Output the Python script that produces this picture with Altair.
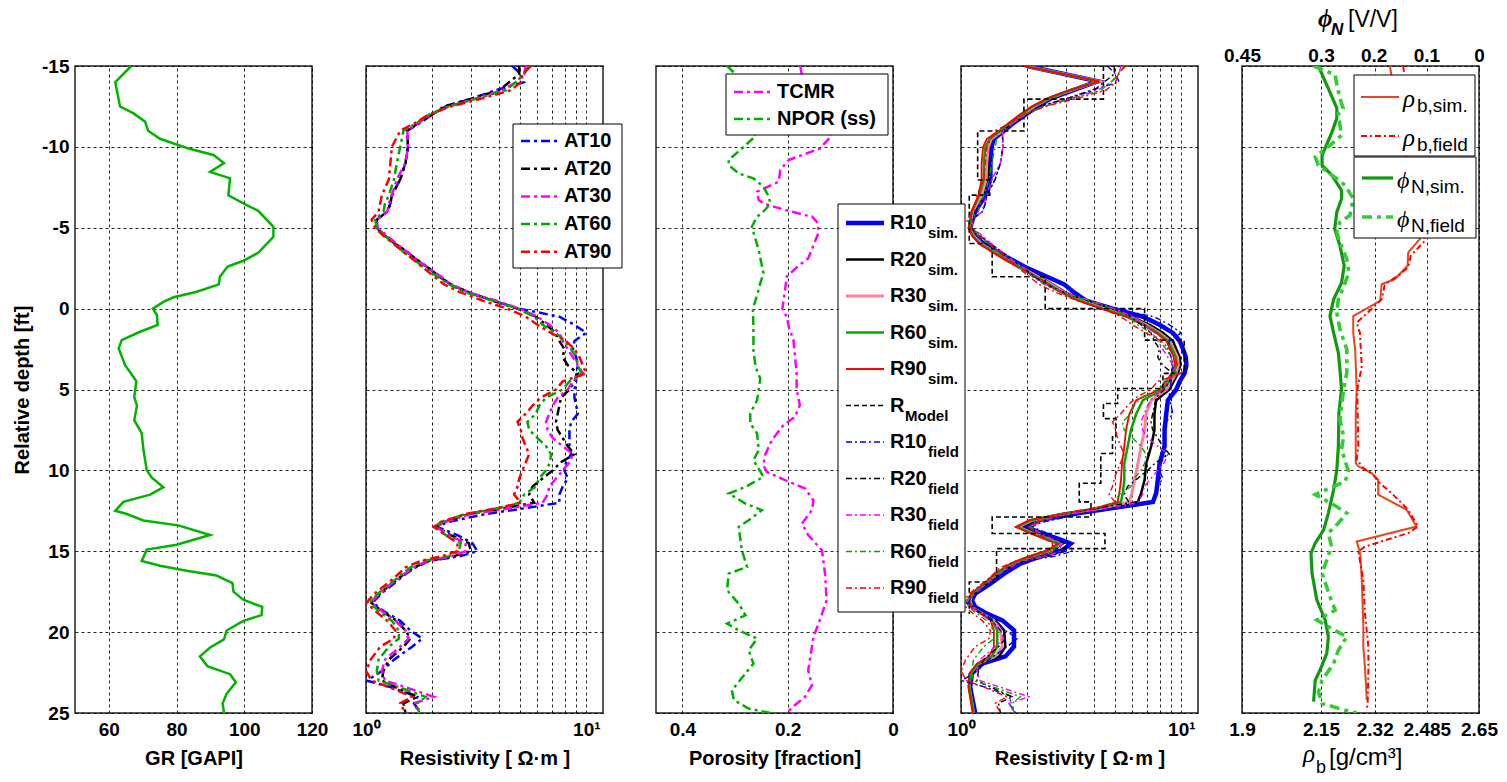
import altair as alt
import pandas as pd

FONT = "Liberation Sans"
SERIF = "Liberation Serif"
W = 237
H = 647
Y_TICKS = [-15, -10, -5, 0, 5, 10, 15, 20, 25]

# ---------------- Panel 1: gamma ray ----------------
gr_depth = [-15, -14.0, -12.5, -12.07, -11.56, -11.0, -10.5, -10.15, -9.9, -9.5, -9.0, -8.45, -8.05,
            -7.0, -6.4, -6.05, -5.06, -4.44, -3.45, -2.96, -2.6, -1.97, -1.5, -1.04, -0.7, -0.42, 0.0,
            0.4, 1.0, 1.43, 1.95, 2.46, 3.5, 4.48, 5.0, 5.45, 6.0, 6.9, 7.7, 8.7, 10.0, 10.45, 11.04,
            11.5, 11.95, 12.5, 12.7, 13.1, 13.4, 14.0, 14.6, 14.9, 15.6, 15.9, 16.2, 16.5, 16.97, 17.5,
            18.0, 18.44, 18.95, 19.3, 19.9, 20.45, 20.95, 21.5, 22.1, 22.6, 23.1, 23.8, 24.4, 25.0]
gr_value = [66.6, 61.9, 63.3, 67.3, 70.7, 71.6, 75.1, 80.0, 83.5, 90.9, 94.0, 89.9, 95.8,
            95.3, 100.7, 104.1, 108.6, 108.6, 104.1, 99.7, 95.1, 92.8, 92.5, 86.0, 79.1, 76.1, 73.0,
            74.2, 74.4, 69.2, 63.8, 62.9, 64.8, 68.1, 67.8, 67.5, 68.3, 67.5, 69.7, 70.2, 71.2, 72.7, 76.1,
            72.2, 64.3, 61.9, 65.3, 70.2, 80.5, 89.9, 80.0, 71.2, 69.7, 75.1, 83.0, 91.8, 96.5, 96.8,
            99.7, 105.3, 105.1, 99.7, 94.8, 94.0, 89.9, 86.9, 89.1, 95.8, 97.5, 94.8, 93.6, 94.0]

# ---------------- Panel 2 / field resistivity logs ----------------
res_depth = [-15, -14.5, -14, -13.5, -13, -12.5, -12, -11.5, -11,
             -10, -9, -8, -7, -6.5, -6, -5.5, -5, -4.5, -4,
             -3.5, -3, -2.5, -2, -1.5, -1, -0.5, 0, 0.5, 1,
             1.5, 2, 2.5, 3, 3.5, 4, 4.5, 5, 5.5, 6,
             6.5, 7, 7.5, 8, 8.5, 9, 9.5, 10, 10.5, 11,
             11.5, 12, 12.3, 12.7, 13.2, 13.5, 14, 14.5, 15, 15.3,
             15.6, 16, 16.5, 17, 17.5, 18, 18.2, 18.7, 19.3, 19.9,
             20.4, 20.9, 21.7, 22.4, 23, 23.4, 24, 24.4, 25]
at10 = [4.62, 5.04, 5.22, 3.88, 3.04, 2.30, 2.00, 1.77, 1.54,
        1.55, 1.51, 1.43, 1.31, 1.29, 1.25, 1.12, 1.12, 1.22, 1.36,
        1.54, 1.71, 1.93, 2.14, 2.42, 2.93, 3.75, 4.96, 7.54, 8.83,
        9.98, 8.83, 8.68, 8.99, 9.15, 8.99, 8.99, 8.83, 8.83, 8.99,
        9.15, 8.53, 8.38, 8.38, 8.38, 8.53, 8.09, 7.95, 8.23, 7.81,
        7.54, 7.54, 5.50, 3.49, 2.34, 2.10, 2.60, 3.04, 3.20, 2.69,
        1.93, 1.68, 1.48, 1.34, 1.20, 1.10, 1.08, 1.20, 1.43, 1.59,
        1.80, 1.62, 1.34, 1.18, 1.01, 1.29, 1.71, 1.65, 1.77]
at20 = [4.96, 4.96, 4.46, 4.02, 3.04, 2.26, 2.00, 1.74, 1.54,
        1.55, 1.51, 1.43, 1.31, 1.29, 1.25, 1.12, 1.12, 1.22, 1.36,
        1.54, 1.71, 1.93, 2.14, 2.42, 2.93, 3.75, 4.87, 5.90, 6.56,
        7.28, 7.54, 7.95, 7.81, 8.23, 9.15, 8.83, 8.38, 7.67, 7.54,
        7.41, 7.28, 7.41, 7.81, 8.23, 8.83, 7.67, 7.03, 6.33, 5.70,
        5.50, 5.80, 4.38, 2.93, 2.26, 2.08, 2.42, 2.93, 2.99, 2.51,
        1.93, 1.65, 1.46, 1.31, 1.18, 1.08, 1.06, 1.18, 1.38, 1.51,
        1.59, 1.48, 1.27, 1.20, 1.18, 1.36, 1.71, 1.48, 1.51]
at30 = [5.31, 5.22, 4.79, 4.16, 3.15, 2.38, 1.96, 1.74, 1.54,
        1.55, 1.51, 1.38, 1.31, 1.27, 1.25, 1.12, 1.13, 1.25, 1.38,
        1.54, 1.71, 1.93, 2.18, 2.42, 2.93, 3.88, 4.96, 6.00, 6.79,
        7.54, 7.81, 8.23, 8.68, 9.15, 9.64, 8.68, 8.23, 7.41, 7.03,
        6.79, 6.56, 6.67, 7.03, 7.81, 8.68, 8.38, 7.81, 7.28, 6.79,
        6.67, 6.33, 4.70, 2.99, 2.26, 2.08, 2.38, 2.83, 2.83, 2.46,
        1.90, 1.65, 1.46, 1.31, 1.18, 1.08, 1.06, 1.18, 1.36, 1.51,
        1.56, 1.43, 1.22, 1.18, 1.22, 1.51, 2.03, 1.65, 1.74]
at60 = [5.50, 5.22, 4.79, 4.31, 3.20, 2.38, 1.93, 1.71, 1.48,
        1.43, 1.38, 1.34, 1.27, 1.22, 1.20, 1.10, 1.12, 1.22, 1.34,
        1.48, 1.66, 1.86, 2.10, 2.38, 2.83, 3.75, 4.87, 5.80, 6.33,
        7.28, 7.95, 8.53, 8.99, 9.15, 9.48, 8.38, 7.81, 6.56, 6.11,
        5.90, 5.40, 5.50, 6.00, 6.56, 6.91, 6.85, 6.56, 6.11, 5.90,
        5.22, 4.96, 4.09, 2.83, 2.18, 2.05, 2.30, 2.69, 2.64, 2.38,
        1.83, 1.59, 1.43, 1.29, 1.16, 1.06, 1.05, 1.14, 1.31, 1.41,
        1.41, 1.27, 1.14, 1.12, 1.14, 1.41, 1.86, 1.71, 1.74]
at90 = [5.60, 5.13, 5.04, 4.54, 3.37, 2.42, 1.93, 1.68, 1.43,
        1.31, 1.29, 1.27, 1.18, 1.16, 1.14, 1.06, 1.10, 1.20, 1.34,
        1.48, 1.65, 1.83, 2.03, 2.26, 2.69, 3.37, 4.38, 5.31, 6.00,
        6.91, 8.09, 8.83, 9.31, 9.64, 9.98, 7.81, 7.28, 6.22, 5.70,
        5.31, 4.87, 5.04, 5.13, 5.31, 5.50, 5.31, 5.13, 4.96, 4.87,
        4.70, 5.04, 4.09, 2.83, 2.18, 2.03, 2.30, 2.60, 2.60, 2.22,
        1.77, 1.51, 1.38, 1.25, 1.12, 1.03, 1.01, 1.10, 1.25, 1.36,
        1.34, 1.16, 1.05, 1.00, 1.06, 1.27, 1.62, 1.43, 1.51]

# ---------------- Panel 3: porosity ----------------
tcmr_depth = [-15, -14.44, -10.67, -9.9, -9.19, -8.57, -7.85, -7.23, -6.71, -6.5, -6.1, -5.78, -5.7,
              -5.27, -4.65, -3.1, -2.63, -1.97, -1.14, 0.0, 0.5, 1.12, 1.95, 2.98, 4.0, 5.0, 5.97,
              6.69, 7.2, 8.13, 9.06, 9.68, 10.09, 10.6, 11.12, 11.85, 12.46, 13.29, 14.0, 14.94,
              16.38, 18.03, 19.27, 20.3, 22.36, 23.29, 24.0, 24.5, 25.0]
tcmr_value = [0.176, 0.173, 0.117, 0.139, 0.198, 0.214, 0.217, 0.258, 0.255, 0.246, 0.205, 0.167, 0.154,
              0.142, 0.142, 0.161, 0.180, 0.202, 0.205, 0.210, 0.202, 0.198, 0.189, 0.186, 0.183, 0.183, 0.177,
              0.186, 0.208, 0.230, 0.243, 0.246, 0.240, 0.205, 0.167, 0.151, 0.154, 0.173, 0.161, 0.135,
              0.129, 0.126, 0.139, 0.151, 0.161, 0.154, 0.167, 0.186, 0.202]
npor_depth = [-15, -14.5, -10.67, -9.9, -9.19, -8.88, -8.36, -8.05, -7.54, -6.92, -6.5, -6.1, -5.68,
              -5.06, -3.62, -2.18, -1.56, -0.84, 0.0, 1.12, 2.57, 3.6, 4.32, 5.0, 5.66, 6.48, 7.1, 7.72,
              8.75, 9.37, 10.4, 11.02, 11.43, 12.05, 12.46, 13.08, 13.49, 14.94, 15.97, 16.38, 17.41,
              18.24, 18.96, 19.47, 19.89, 20.4, 21.12, 21.95, 23.6, 24.2, 24.73, 25.0]
npor_value = [0.315, 0.299, 0.261, 0.287, 0.312, 0.312, 0.293, 0.265, 0.246, 0.236, 0.233, 0.243, 0.258,
              0.268, 0.255, 0.246, 0.252, 0.258, 0.266, 0.265, 0.265, 0.261, 0.252, 0.255, 0.258, 0.271, 0.271, 0.258,
              0.255, 0.265, 0.246, 0.280, 0.312, 0.280, 0.249, 0.274, 0.293, 0.287, 0.277, 0.312, 0.315,
              0.293, 0.280, 0.315, 0.293, 0.258, 0.274, 0.265, 0.306, 0.302, 0.274, 0.233]

# ---------------- Panel 4: simulated resistivity ----------------
sim_depth = [-15, -14.05, -13.5, -13, -12.5, -12, -11.5, -11, -10.5, -10,
             -9, -8, -7, -6, -5, -4.5, -4, -3.5, -3, -2.5,
             -2, -1.5, -1, -0.5, 0, 0.5, 1, 1.5, 2, 2.5,
             3, 3.5, 4, 4.5, 5, 5.66, 6.5, 7.5, 8.5, 9.6,
             10.6, 11.4, 11.95, 12.36, 12.67, 13.08, 13.5, 13.9, 14.32, 14.53,
             14.94, 15.35, 15.76, 16.38, 17, 17.62, 18.03, 18.44, 18.86, 19.27,
             19.89, 20.9, 21.5, 21.95, 22.57, 23.4, 25]
r10_sim = [2.00, 4.17, 3.21, 2.56, 2.22, 1.97, 1.74, 1.57, 1.41, 1.375,
           1.36, 1.36, 1.29, 1.16, 1.10, 1.16, 1.27, 1.46, 1.71, 2.00,
           2.43, 2.94, 3.26, 3.69, 4.88, 6.69, 7.96, 9.16, 9.83, 10.18,
           10.47, 10.54, 10.33, 9.83, 9.48, 8.69, 8.54, 8.39, 8.39, 7.96,
           7.82, 7.69, 7.43, 4.71, 3.32, 2.26, 1.90, 2.34, 2.89, 3.15,
           2.89, 2.26, 1.86, 1.57, 1.36, 1.16, 1.12, 1.16, 1.31, 1.54,
           1.74, 1.74, 1.59, 1.25, 1.12, 1.10, 1.16]
r20_sim = [1.97, 4.17, 3.15, 2.51, 2.15, 1.91, 1.71, 1.54, 1.38, 1.34,
           1.33, 1.33, 1.25, 1.14, 1.095, 1.14, 1.25, 1.43, 1.65, 1.93,
           2.26, 2.60, 2.99, 3.56, 4.55, 5.91, 7.18, 8.25, 9.16, 9.48,
           9.83, 9.90, 9.66, 9.23, 8.84, 7.69, 7.55, 7.55, 7.30, 6.92,
           6.81, 6.57, 6.35, 4.32, 3.04, 2.15, 1.85, 2.17, 2.60, 2.89,
           2.60, 2.07, 1.74, 1.49, 1.31, 1.13, 1.10, 1.13, 1.26, 1.43,
           1.57, 1.59, 1.49, 1.21, 1.11, 1.10, 1.14]
r30_sim = [1.97, 4.22, 3.15, 2.51, 2.15, 1.91, 1.71, 1.54, 1.375, 1.33,
           1.31, 1.30, 1.24, 1.13, 1.09, 1.14, 1.24, 1.42, 1.64, 1.91,
           2.22, 2.56, 2.94, 3.50, 4.47, 5.81, 6.92, 7.96, 8.84, 9.23,
           9.62, 9.69, 9.43, 9.01, 8.54, 7.30, 6.92, 6.81, 6.57, 6.35,
           6.13, 5.96, 5.81, 4.24, 2.99, 2.11, 1.82, 2.12, 2.56, 2.84,
           2.56, 2.04, 1.71, 1.46, 1.29, 1.12, 1.10, 1.12, 1.25, 1.41,
           1.51, 1.54, 1.43, 1.20, 1.10, 1.09, 1.14]
r60_sim = [1.95, 4.24, 3.12, 2.51, 2.12, 1.88, 1.68, 1.51, 1.35, 1.29,
           1.27, 1.27, 1.21, 1.12, 1.09, 1.13, 1.22, 1.41, 1.62, 1.88,
           2.18, 2.51, 2.89, 3.44, 4.40, 5.71, 6.81, 7.82, 8.69, 9.07,
           9.43, 9.48, 9.23, 8.79, 8.25, 6.69, 6.24, 5.91, 5.71, 5.51,
           5.51, 5.42, 5.32, 4.17, 2.94, 2.07, 1.80, 2.09, 2.51, 2.79,
           2.51, 2.02, 1.70, 1.45, 1.28, 1.12, 1.09, 1.12, 1.24, 1.38,
           1.46, 1.46, 1.38, 1.20, 1.10, 1.09, 1.14]
r90_sim = [1.93, 4.24, 3.10, 2.46, 2.09, 1.85, 1.65, 1.49, 1.31, 1.26,
           1.24, 1.24, 1.20, 1.115, 1.084, 1.12, 1.21, 1.38, 1.59, 1.85,
           2.15, 2.47, 2.84, 3.38, 4.32, 5.61, 6.69, 7.69, 8.54, 8.91,
           9.23, 9.33, 9.01, 8.54, 7.96, 6.24, 5.81, 5.61, 5.51, 5.38,
           5.32, 5.23, 5.14, 4.09, 2.89, 2.04, 1.77, 2.07, 2.47, 2.74,
           2.47, 2.00, 1.68, 1.43, 1.27, 1.11, 1.08, 1.11, 1.23, 1.36,
           1.41, 1.41, 1.34, 1.18, 1.09, 1.08, 1.13]
model_top = [-15, -12.95, -10.98, -7.95, -7.02, -4.03, -1.97, 0.0, 1.95, 4.0, 4.94, 5.87, 6.8,
             7.93, 8.96, 10.8, 11.95, 12.88, 13.9, 14.84, 16.9]
model_bottom = [-12.95, -10.98, -7.95, -7.02, -4.03, -1.97, 0.0, 1.95, 4.0, 4.94, 5.87, 6.8, 7.93,
                8.96, 10.8, 11.95, 12.88, 13.9, 14.84, 16.9, 18.86]
model_res = [4.43, 1.93, 1.19, 1.35, 1.09, 1.385, 2.41, 6.81, 10.3, 8.25, 5.14, 4.43, 5.05,
             4.87, 4.31, 3.44, 3.89, 1.385, 4.5, 1.45, 1.09]

# ---------------- Panel 5: density & neutron porosity ----------------
rho_sim_depth = [-15, -4.3, -3.48, -2.65, -1.83, -1.51, -0.48, 0.46, 1.49, 2.53, 5.0, 6.45, 9.55, 9.75,
                 10.17, 10.58, 11.5, 12.44, 13.47, 14.4, 15.12, 16.78, 19.67, 20.91, 22.15, 24.2]
rho_sim = [2.368, 2.463, 2.426, 2.424, 2.384, 2.342, 2.337, 2.252, 2.252, 2.258, 2.263, 2.26, 2.26, 2.268,
           2.31, 2.331, 2.331, 2.421, 2.452, 2.263, 2.274, 2.279, 2.284, 2.284, 2.289, 2.295]
rho_field_depth = [-15, -4.2, -3.27, -2.55, -2.03, -1.51, -0.58, -0.27, 0.87, 1.49, 3.56, 5.0, 6.45, 8.5,
                   9.34, 9.86, 10.27, 10.8, 11.4, 12.44, 13.47, 13.88, 14.71, 15.02, 16.78, 18.84, 20.91,
                   22.36, 24.2, 24.8]
rho_field = [2.41, 2.479, 2.434, 2.426, 2.394, 2.352, 2.342, 2.326, 2.263, 2.273, 2.279, 2.265, 2.266, 2.268,
             2.263, 2.284, 2.315, 2.337, 2.373, 2.426, 2.457, 2.426, 2.289, 2.268, 2.284, 2.289, 2.30,
             2.30, 2.298, 2.295]
phi_sim_depth = [-15, -13.6, -12.4, -11.76, -10.93, -9.48, -8.86, -8.24, -7.31, -6.79, -5.96, -4.93, -3.89,
                 -2.65, -1.6, -0.58, 0.46, 1.5, 2.74, 3.77, 5.0, 6.45, 8.5, 9.96, 11.2, 12.64, 13.68, 14.5,
                 15.12, 16.36, 18.0, 19.26, 20.29, 21.32, 22.36, 22.98, 24.3]
phi_sim = [0.305, 0.286, 0.270, 0.270, 0.279, 0.298, 0.298, 0.279, 0.261, 0.261, 0.270, 0.274, 0.264,
           0.256, 0.261, 0.276, 0.283, 0.276, 0.267, 0.264, 0.261, 0.266, 0.267, 0.270, 0.276, 0.286, 0.295, 0.311,
           0.319, 0.317, 0.308, 0.292, 0.286, 0.289, 0.302, 0.311, 0.314]
phi_field_depth = [-15, -14.45, -13.83, -13.0, -12.38, -12.07, -11.35, -10.72, -10.1, -9.38, -8.86, -8.03,
                   -7.62, -6.79, -5.76, -5.34, -4.72, -4.1, -3.07, -2.24, -1.62, -0.58, 0.25, 1.28, 2.52,
                   3.97, 5.0, 6.03, 6.86, 7.9, 8.7, 9.75, 10.06, 10.68, 10.99, 11.5, 12.13, 12.64, 13.26,
                   13.88, 14.71, 15.54, 16.36, 17.81, 18.64, 19.26, 19.67, 20.29, 21.12, 21.94, 22.98,
                   23.7, 24.42, 24.83, 25.0]
phi_field = [0.314, 0.273, 0.270, 0.264, 0.258, 0.267, 0.264, 0.261, 0.283, 0.311, 0.305, 0.270,
             0.254, 0.239, 0.245, 0.264, 0.270, 0.264, 0.251, 0.247, 0.254, 0.267, 0.270, 0.264, 0.251,
             0.251, 0.257, 0.261, 0.264, 0.257, 0.261, 0.251, 0.248, 0.254, 0.276, 0.311, 0.276, 0.251, 0.267,
             0.286, 0.280, 0.289, 0.298, 0.283, 0.273, 0.308, 0.286, 0.251, 0.267, 0.276, 0.298,
             0.305, 0.298, 0.254, 0.232]

# ---------------- helpers ----------------
ONE = pd.DataFrame({"k": [0]})
DASHDOT = [9, 4, 3, 4]
THIN_DASHDOT = [6, 3, 2, 3]


def series(depths, values):
    return pd.DataFrame({"d": depths, "v": values, "i": list(range(len(depths)))})


def steps(tops, bottoms, vals):
    d, v = [], []
    for t, b, r in zip(tops, bottoms, vals):
        d += [t, b]
        v += [r, r]
    return series(d, v)


def curve(df, X, Y, color, width, dash=None):
    kw = dict(color=color, strokeWidth=width, clip=True)
    if dash is not None:
        kw["strokeDash"] = dash
    return alt.Chart(df).mark_line(**kw).encode(x=X, y=Y, order=alt.Order("i:Q"))


def box(x0, x1, y0, y1):
    return alt.Chart(ONE).mark_rect(fill="white", stroke="black", strokeWidth=1).encode(
        x=alt.value(x0), x2=alt.value(x1), y=alt.value(y0), y2=alt.value(y1))


def sample(x0, x1, y, color, width, dash=None):
    kw = dict(color=color, strokeWidth=width)
    if dash is not None:
        kw["strokeDash"] = dash
    return alt.Chart(ONE).mark_rule(**kw).encode(x=alt.value(x0), x2=alt.value(x1), y=alt.value(y))


def text(x, y, s, size, weight="bold", font=FONT, style="normal", baseline="middle"):
    return alt.Chart(ONE).mark_text(text=s, fontSize=size, fontWeight=weight, font=font,
                                    fontStyle=style, baseline=baseline, align="left",
                                    color="black").encode(x=alt.value(x), y=alt.value(y))


def yenc(show):
    sc = alt.Scale(domain=[-15, 25], reverse=True, nice=False, zero=False)
    if show:
        ax = alt.Axis(values=Y_TICKS, title="Relative depth [ft]", labelPadding=6, titlePadding=9,
                      labelExpr="toString(datum.value)")
    else:
        ax = alt.Axis(values=Y_TICKS, title=None, labels=False)
    return alt.Y("d:Q", scale=sc, axis=ax)


def spacer(w):
    return alt.Chart(ONE).mark_point(opacity=0).encode(
        x=alt.X("k:Q", axis=None), y=alt.Y("k:Q", axis=None)
    ).properties(width=w, height=H, view=alt.ViewBackground(stroke="transparent"))


LOG_LABELS = "datum.value == 1 ? '10\u2070' : (datum.value == 10 ? '10\u00b9' : '')"


def res_x():
    return alt.X("v:Q", scale=alt.Scale(type="log", domain=[1, 11.9], nice=False),
                 axis=alt.Axis(values=[1, 2, 3, 4, 5, 6, 7, 8, 9, 10], labelExpr=LOG_LABELS,
                               labelOverlap=False, title="Resistivity [ \u03a9\u00b7m ]"))


# ---------------- Panel 1 ----------------
X1 = alt.X("v:Q", scale=alt.Scale(domain=[50, 120], nice=False, zero=False),
           axis=alt.Axis(values=[60, 80, 100, 120], title="GR [GAPI]"))
p1 = curve(series(gr_depth, gr_value), X1, yenc(True), "#00b400", 2.5).properties(width=W, height=H)

# ---------------- Panel 2 ----------------
X2 = res_x()
Y2 = yenc(False)
at_names = ["AT10", "AT20", "AT30", "AT60", "AT90"]
at_series = [at10, at20, at30, at60, at90]
at_colors = ["#0000ff", "#000000", "#ff00ff", "#00a800", "#ff0000"]
layers2 = [curve(series(res_depth, s), X2, Y2, c, 2.5, DASHDOT) for s, c in zip(at_series, at_colors)]
layers2.append(box(147, 256, 58, 202))
for k, (n, c) in enumerate(zip(at_names, at_colors)):
    yy = 75 + 27.7 * k
    layers2.append(sample(155, 193, yy, c, 2.5, DASHDOT))
    layers2.append(text(198, yy, n, 20))
p2 = alt.layer(*layers2).properties(width=W, height=H)

# ---------------- Panel 3 ----------------
X3 = alt.X("v:Q", scale=alt.Scale(domain=[0, 0.45], reverse=True, nice=False, zero=False),
           axis=alt.Axis(values=[0, 0.2, 0.4], format=".1~f", title="Porosity [fraction]"))
Y3 = yenc(False)
p3 = alt.layer(
    curve(series(tcmr_depth, tcmr_value), X3, Y3, "#ff00ff", 2.5, DASHDOT),
    curve(series(npor_depth, npor_value), X3, Y3, "#00b000", 2.5, DASHDOT),
    box(70, 232, 8, 69),
    sample(78, 118, 26, "#ff00ff", 2.5, DASHDOT),
    text(121, 26, "TCMR", 20),
    sample(78, 118, 53, "#00b000", 2.5, DASHDOT),
    text(121, 53, "NPOR (ss)", 20),
).properties(width=W, height=H)

# ---------------- Panel 4 ----------------
X4 = res_x()
Y4 = yenc(False)
sim_series = [r10_sim, r20_sim, r30_sim, r60_sim, r90_sim]
sim_colors = ["#0000ff", "#000000", "#ff7f9f", "#00a800", "#ff0000"]
sim_widths = [4.5, 2.5, 3, 2.5, 1.8]
field_colors = ["#0000ff", "#000000", "#ff00ff", "#00a800", "#ff0000"]
layers4 = [curve(series(sim_depth, s), X4, Y4, c, w) for s, c, w in zip(sim_series, sim_colors, sim_widths)]
layers4.append(curve(steps(model_top, model_bottom, model_res), X4, Y4, "#000000", 1.6, [5, 3]))
layers4 += [curve(series(res_depth, s), X4, Y4, c, 1.4, THIN_DASHDOT) for s, c in zip(at_series, field_colors)]

layers4.append(box(-123, 4, 138, 546))
legend4 = [
    ("R10", "sim.", "#0000ff", 4.5, None),
    ("R20", "sim.", "#000000", 2.5, None),
    ("R30", "sim.", "#ff7f9f", 3, None),
    ("R60", "sim.", "#00a800", 2.5, None),
    ("R90", "sim.", "#ff0000", 1.8, None),
    ("R", "Model", "#000000", 1.6, [5, 3]),
    ("R10", "field", "#0000ff", 1.4, THIN_DASHDOT),
    ("R20", "field", "#000000", 1.4, THIN_DASHDOT),
    ("R30", "field", "#ff00ff", 1.4, THIN_DASHDOT),
    ("R60", "field", "#00a800", 1.4, THIN_DASHDOT),
    ("R90", "field", "#ff0000", 1.4, THIN_DASHDOT),
]
for k, (main, sub, c, w, dash) in enumerate(legend4):
    yy = 157 + 36.5 * k
    layers4.append(sample(-115, -77, yy, c, w, dash))
    layers4.append(text(-71, yy, main, 20))
    sx = -71 + (15 if main == "R" else 38)
    layers4.append(text(sx, yy + 10, sub, 15))
p4 = alt.layer(*layers4).properties(width=W, height=H)

# ---------------- Panel 5 ----------------
Y5 = yenc(False)
XR = alt.X("v:Q", scale=alt.Scale(domain=[1.9, 2.65], nice=False, zero=False),
           axis=alt.Axis(values=[1.9, 2.15, 2.32, 2.485, 2.65], format=".3~f", title=None))
XP = alt.X("v:Q", scale=alt.Scale(domain=[0, 0.45], reverse=True, nice=False, zero=False),
           axis=alt.Axis(values=[0, 0.1, 0.2, 0.3, 0.45], format=".2~f", title=None, orient="top",
                         grid=False, labelPadding=1))
rho_layers = alt.layer(
    curve(series(rho_sim_depth, rho_sim), XR, Y5, "#e8461e", 2),
    curve(series(rho_field_depth, rho_field), XR, Y5, "#ff0000", 2, THIN_DASHDOT),
)
phi_layers = alt.layer(
    curve(series(phi_sim_depth, phi_sim), XP, Y5, "#119911", 3.2),
    curve(series(phi_field_depth, phi_field), XP, Y5, "#33cc33", 3.6, [10, 5, 4, 5]),
)
deco5 = [
    box(112, 233, 9, 90),
    box(112, 234, 91, 172),
    sample(119, 157, 31, "#e8461e", 2),
    text(161, 41, "\u03c1", 25, weight="normal", font=SERIF, style="italic", baseline="alphabetic"),
    text(175, 46, "b,sim.", 19, weight="normal", baseline="alphabetic"),
    sample(119, 157, 70, "#ff0000", 2, THIN_DASHDOT),
    text(161, 80, "\u03c1", 25, weight="normal", font=SERIF, style="italic", baseline="alphabetic"),
    text(175, 85, "b,field", 19, weight="normal", baseline="alphabetic"),
    sample(120, 151, 112, "#119911", 3.2),
    text(155, 122, "\u03d5", 24, weight="normal", font=SERIF, style="italic", baseline="alphabetic"),
    text(169, 127, "N,sim.", 19, weight="normal", baseline="alphabetic"),
    sample(120, 151, 151, "#33cc33", 3.6, [10, 5, 4, 5]),
    text(155, 161, "\u03d5", 24, weight="normal", font=SERIF, style="italic", baseline="alphabetic"),
    text(169, 166, "N,field", 19, weight="normal", baseline="alphabetic"),
    # top axis title  phi_N [V/V]
    text(76, -39, "\u03d5", 25, weight="bold", font=SERIF, style="italic", baseline="alphabetic"),
    text(89, -31, "N", 17, weight="bold", style="italic", baseline="alphabetic"),
    text(106, -39, "[V/V]", 23, weight="normal", baseline="alphabetic"),
    # bottom axis title rho_b [g/cm3]
    text(61, 696, "\u03c1", 25, weight="normal", font=SERIF, style="italic", baseline="alphabetic"),
    text(74, 707, "b", 18, weight="normal", baseline="alphabetic"),
    text(87, 699, "[g/cm\u00b3]", 24, weight="normal", baseline="alphabetic"),
]
p5 = alt.layer(rho_layers, phi_layers, *deco5).resolve_scale(x="independent").properties(width=W, height=H)

chart = alt.hconcat(
    p1, spacer(54), p2, spacer(53), p3, spacer(68), p4, spacer(44), p5,
    spacing=0, bounds="flush"
).configure_view(
    stroke="#222222", strokeWidth=1.5
).configure_axis(
    labelFont=FONT, labelFontSize=19, labelFontWeight="bold", labelColor="black",
    titleFont=FONT, titleFontSize=20, titleFontWeight="bold", titleColor="black",
    grid=True, gridColor="black", gridDash=[3, 3], gridWidth=1, gridOpacity=0.85,
    domain=False, ticks=False, labelPadding=7, titlePadding=9, labelFlush=False
).properties(
    background="white",
    padding={"left": 11, "top": 6, "right": 4, "bottom": 4}
)

chart.save("out.html", embed_options={"renderer": "svg", "actions": False})
